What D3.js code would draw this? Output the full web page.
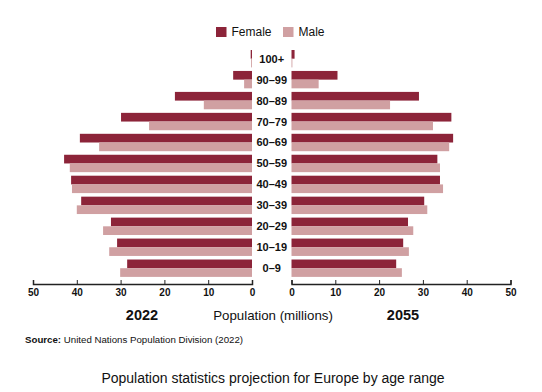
<!DOCTYPE html>
<html>
<head>
<meta charset="utf-8">
<script src="https://cdn.jsdelivr.net/npm/d3@7"></script>
<style>
  body { margin: 0; background: #fff; }
  svg { display: block; font-family: "Liberation Sans", Arial, Helvetica, sans-serif; }
</style>
</head>
<body>
<svg id="chart" width="542" height="392"></svg>
<script>
const ageGroups = ["100+", "90–99", "80–89", "70–79", "60–69", "50–59", "40–49", "30–39", "20–29", "10–19", "0–9"];
const female2022 = [0.3, 4.3, 17.6, 29.9, 39.3, 42.9, 41.3, 39.0, 32.2, 30.8, 28.5];
const male2022   = [0.2, 1.8, 11.0, 23.5, 34.9, 41.6, 41.1, 40.0, 34.0, 32.6, 30.1];
const female2055 = [0.7, 10.5, 29.1, 36.5, 36.9, 33.3, 33.9, 30.3, 26.6, 25.5, 23.9];
const male2055   = [0.2, 6.2, 22.5, 32.3, 36.0, 33.9, 34.6, 31.0, 27.8, 26.8, 25.2];
const tickValues = [0, 10, 20, 30, 40, 50];
const seriesNames = ["Female", "Male"];
const colors = { Female: "#8C2439", Male: "#D0A0A2" };

const svg = d3.select("#chart");

const y = d3.scaleBand().domain(ageGroups).range([50, 276.9]).paddingInner(0.17).paddingOuter(0);
const half = y.bandwidth() / 2;
const xLeft = d3.scaleLinear().domain([0, 50]).range([252, 33]);
const xRight = d3.scaleLinear().domain([0, 50]).range([291.5, 510.5]);

// Left (2022) bars
const left = svg.append("g");
left.selectAll("rect.f").data(ageGroups).join("rect")
  .attr("x", (d, i) => xLeft(female2022[i]))
  .attr("y", d => y(d))
  .attr("width", (d, i) => xLeft(0) - xLeft(female2022[i]))
  .attr("height", half)
  .attr("fill", colors.Female);
left.selectAll("rect.m").data(ageGroups).join("rect")
  .attr("x", (d, i) => xLeft(male2022[i]))
  .attr("y", d => y(d) + half)
  .attr("width", (d, i) => xLeft(0) - xLeft(male2022[i]))
  .attr("height", half)
  .attr("fill", colors.Male);

// Right (2055) bars
const right = svg.append("g");
right.selectAll("rect.f").data(ageGroups).join("rect")
  .attr("x", xRight(0))
  .attr("y", d => y(d))
  .attr("width", (d, i) => xRight(female2055[i]) - xRight(0))
  .attr("height", half)
  .attr("fill", colors.Female);
right.selectAll("rect.m").data(ageGroups).join("rect")
  .attr("x", xRight(0))
  .attr("y", d => y(d) + half)
  .attr("width", (d, i) => xRight(male2055[i]) - xRight(0))
  .attr("height", half)
  .attr("fill", colors.Male);

// Age labels
svg.append("g").selectAll("text").data(ageGroups).join("text")
  .attr("x", (xLeft(0) + xRight(0)) / 2)
  .attr("y", d => y(d) + half)
  .attr("dy", "0.36em")
  .attr("text-anchor", "middle")
  .attr("font-size", 11)
  .attr("font-weight", "bold")
  .attr("fill", "#111")
  .text(d => d);

// Axes
const axisY = 284;
function styleAxis(g) {
  g.select(".domain").attr("stroke", "#222").attr("stroke-width", 1.5);
  g.selectAll(".tick line").attr("stroke", "#222").attr("stroke-width", 1);
  g.selectAll(".tick text").attr("font-size", 10).attr("font-weight", "bold").attr("fill", "#111")
    .attr("font-family", "Liberation Sans, Arial, sans-serif");
}
svg.append("g").attr("transform", `translate(0,${axisY})`)
  .call(d3.axisBottom(xLeft).tickValues(tickValues).tickSizeInner(-4).tickSizeOuter(-4).tickPadding(5))
  .call(styleAxis);
svg.append("g").attr("transform", `translate(0,${axisY})`)
  .call(d3.axisBottom(xRight).tickValues(tickValues).tickSizeInner(-4).tickSizeOuter(-4).tickPadding(5))
  .call(styleAxis);

// Year labels and axis title
svg.append("text").attr("x", 142).attr("y", 320).attr("text-anchor", "middle")
  .attr("font-size", 14.5).attr("font-weight", "bold").attr("fill", "#111").text("2022");
svg.append("text").attr("x", 403).attr("y", 320).attr("text-anchor", "middle")
  .attr("font-size", 14.5).attr("font-weight", "bold").attr("fill", "#111").text("2055");
svg.append("text").attr("x", 273).attr("y", 320).attr("text-anchor", "middle")
  .attr("font-size", 13.3).attr("fill", "#111").text("Population (millions)");

// Legend
const legendX = [216, 283];
const legend = svg.append("g").selectAll("g").data(seriesNames).join("g")
  .attr("transform", (d, i) => `translate(${legendX[i]},27)`);
legend.append("rect").attr("width", 10.5).attr("height", 10).attr("fill", d => colors[d]);
legend.append("text").attr("x", 15.5).attr("y", 5).attr("dy", "0.36em")
  .attr("font-size", 12).attr("fill", "#111").text(d => d);

// Source
const src = svg.append("text").attr("x", 25).attr("y", 343).attr("font-size", 9.7).attr("fill", "#111");
src.append("tspan").attr("font-weight", "bold").text("Source:");
src.append("tspan").text(" United Nations Population Division (2022)");

// Title
svg.append("text").attr("x", 273).attr("y", 383).attr("text-anchor", "middle")
  .attr("font-size", 14).attr("fill", "#111")
  .text("Population statistics projection for Europe by age range");
</script>
</body>
</html>
